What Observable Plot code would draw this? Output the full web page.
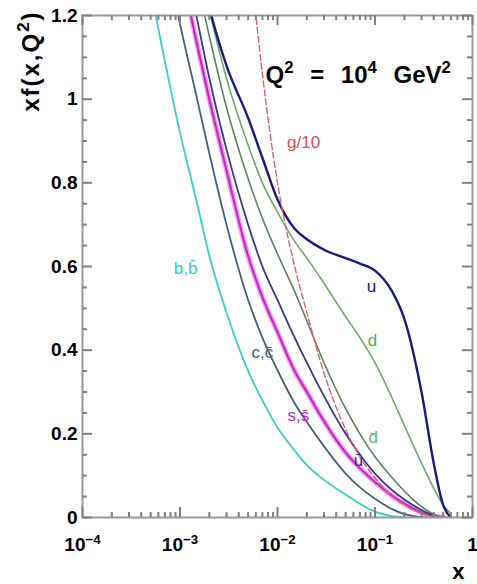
<!DOCTYPE html>
<html><head><meta charset="utf-8">
<script src="https://cdn.jsdelivr.net/npm/d3@7"></script>
<script src="https://cdn.jsdelivr.net/npm/@observablehq/plot@0.6"></script>
<style>body{margin:0;background:#fff}</style>
</head><body><div id="chart"></div>
<script>
// x grid shared by all curves
const xGrid  = [0.0005,0.0007,0.001,0.0015,0.002,0.003,0.005,0.007,0.01,0.015,0.02,0.03,0.05,0.07,0.1,0.15,0.2,0.3,0.4,0.5,0.6];
// xf(x,Q^2) values (null = not drawn)
const bVals    = [1.26,1.09,0.92,0.75,0.625,0.49,0.35,0.28,0.215,0.16,0.125,0.09,0.055,0.033,0.014,0.003,0,null,null,null,null];
const cVals    = [null,1.36,1.18,1.00,0.87,0.70,0.52,0.43,0.352,0.273,0.228,0.17,0.105,0.072,0.045,0.02,0.008,0.001,0,null,null];
const sVals    = [null,1.50,1.32,1.13,1.00,0.83,0.625,0.527,0.443,0.35,0.30,0.23,0.155,0.118,0.085,0.052,0.033,0.012,0.003,0,null];
const ubarVals = [null,null,1.38,1.19,1.05,0.88,0.70,0.60,0.52,0.43,0.37,0.29,0.20,0.15,0.105,0.065,0.043,0.018,0.005,0,null];
const dbarVals = [null,null,1.48,1.28,1.15,0.98,0.81,0.715,0.63,0.54,0.47,0.37,0.26,0.20,0.145,0.095,0.063,0.026,0.008,0.001,0];
const dVals    = [null,null,1.52,1.33,1.21,1.05,0.89,0.80,0.73,0.66,0.62,0.56,0.48,0.43,0.37,0.285,0.22,0.13,0.07,0.03,0.01];
const uVals    = [null,null,1.56,1.36,1.22,1.08,0.955,0.86,0.76,0.69,0.665,0.64,0.62,0.607,0.59,0.54,0.475,0.30,0.13,0.03,0];
const gVals    = [null,null,null,null,null,1.90,1.38,1.06,0.80,0.60,0.49,0.345,0.21,0.145,0.095,0.05,0.03,0.01,0.003,0,null];

// curve labels
const labelText = ["g/10","u","d","d\u0304","u\u0304","s,s\u0304","c,c\u0304","b,b\u0304"];
const labelX    = [0.0185,0.092,0.094,0.096,0.0678,0.0164,0.0070,0.00114];
const labelY    = [0.896,0.552,0.423,0.19,0.136,0.244,0.394,0.595];

const xMajor = [1e-4,1e-3,1e-2,1e-1,1];
const yMajor = [0,0.2,0.4,0.6,0.8,1.0,1.2];
const xTickText = ["10\u207B\u2074","10\u207B\u00B3","10\u207B\u00B2","10\u207B\u00B9","1"];
const yLabel = "xf(x,Q\u00B2)";
const xLabel = "x";
const annotation = "Q\u00B2 = 10\u2074 GeV\u00B2";

const W = 477, H = 584, mL = 82, mR = 5, mT = 15, mB = 67;
const innerW = W - mL - mR, innerH = H - mT - mB;

function rows(vals){ return xGrid.map((x,i)=>({x, y: vals[i]})).filter(d=>d.y!=null); }

const styles = [
  {vals:bVals,   stroke:"#3ccccc", w:1.8},
  {vals:cVals,   stroke:"#44607c", w:1.8},
  {vals:sVals,   stroke:"#ff90ff", w:5},
  {vals:sVals,   stroke:"#b030b0", w:2},
  {vals:ubarVals,stroke:"#3a3a80", w:1.8},
  {vals:dbarVals,stroke:"#5f8060", w:1.6},
  {vals:dVals,   stroke:"#6aaa66", w:1.6},
  {vals:uVals,   stroke:"#1a1a78", w:2.4},
];
const labelColors = ["#dd4a5a","#1a1a78","#55aa55","#66bb66","#2a2a90","#b030b0","#44607c","#33cccc"];

// tick marks drawn inside the frame, on all four sides
const xMinor = [];
for (let e=-4;e<0;e++) for (let m=2;m<=9;m++) xMinor.push(m*Math.pow(10,e));
const yMinor = d3.range(0,1.2001,0.05).map(v=>+v.toFixed(2)).filter(v=>!yMajor.some(t=>Math.abs(t-v)<1e-9));
const yPerPx = 1.2/innerH;
const xFacPerPx = Math.pow(10, 4/innerW);
const tickColor = "#808080";
const tw = 2;

const marks = [
  ...styles.map(s => Plot.line(rows(s.vals), {x:"x", y:"y", stroke:s.stroke, strokeWidth:s.w, curve:"monotone-x", clip:true})),
  Plot.line(rows(gVals), {x:"x", y:"y", stroke:"#e06070", strokeWidth:1.4, strokeDasharray:"6,3", curve:"monotone-x", clip:true}),
  Plot.frame({stroke:"#999", strokeWidth:2}),
  Plot.ruleX(xMajor, {y1:0, y2:10*yPerPx, stroke:tickColor, strokeWidth:tw}),
  Plot.ruleX(xMinor, {y1:0, y2:5*yPerPx, stroke:tickColor, strokeWidth:tw}),
  Plot.ruleX(xMajor, {y1:1.2 - 10*yPerPx, y2:1.2, stroke:tickColor, strokeWidth:tw}),
  Plot.ruleX(xMinor, {y1:1.2 - 5*yPerPx, y2:1.2, stroke:tickColor, strokeWidth:tw}),
  Plot.ruleY(yMajor, {x1:1e-4, x2:1e-4*Math.pow(xFacPerPx,10), stroke:tickColor, strokeWidth:tw}),
  Plot.ruleY(yMinor, {x1:1e-4, x2:1e-4*Math.pow(xFacPerPx,5), stroke:tickColor, strokeWidth:tw}),
  Plot.ruleY(yMajor, {x1:1/Math.pow(xFacPerPx,10), x2:1, stroke:tickColor, strokeWidth:tw}),
  Plot.ruleY(yMinor, {x1:1/Math.pow(xFacPerPx,5), x2:1, stroke:tickColor, strokeWidth:tw}),
  Plot.axisX({ticks:xMajor, tickSize:0, tickPadding:20, label:null, fontSize:19, fontWeight:"bold",
    tickFormat:(d)=>xTickText[xMajor.indexOf(d)]}),
  Plot.axisY({ticks:yMajor, tickSize:0, tickPadding:5, label:null, fontSize:19, fontWeight:"bold",
    tickFormat:(d)=>String(+d.toFixed(1))}),
  Plot.text(labelText, {x:(d,i)=>labelX[i], y:(d,i)=>labelY[i], text:d=>d, fill:(d,i)=>labelColors[i], fontSize:17}),
  Plot.text([annotation], {frameAnchor:"top-left", dx:183, dy:50, textAnchor:"start", fontSize:24, fontWeight:"bold", fill:"black"}),
  Plot.text([yLabel], {frameAnchor:"top-left", dx:-61, dy:-5, rotate:-90, textAnchor:"end", fontSize:24, fontWeight:"bold", fill:"black"}),
  Plot.text([xLabel], {frameAnchor:"bottom-right", dx:-8, dy:61, fontSize:22, fontWeight:"bold", fill:"black"}),
];

const chart = Plot.plot({
  width:W, height:H, marginLeft:mL, marginRight:mR, marginTop:mT, marginBottom:mB,
  style:{fontFamily:"'Liberation Sans', Arial, sans-serif", background:"white"},
  x:{type:"log", domain:[1e-4,1]},
  y:{domain:[0,1.2]},
  marks
});
document.getElementById("chart").appendChild(chart);

// turn unicode superscripts into raised tspans (text stays real text)
const supMap = {"\u207B":"\u2212","\u2070":"0","\u00B9":"1","\u00B2":"2","\u00B3":"3","\u2074":"4"};
d3.select(chart).selectAll("text").each(function(){
  const el = this;
  const s = el.textContent;
  if (![...s].some(ch => ch in supMap)) return;
  const fs = parseFloat(getComputedStyle(el).fontSize) || 16;
  const runs = [];
  for (const ch of s) {
    const sup = ch in supMap;
    const c = sup ? supMap[ch] : ch;
    if (runs.length && runs[runs.length-1].sup === sup) runs[runs.length-1].t += c;
    else runs.push({sup, t:c});
  }
  while (el.firstChild) el.removeChild(el.firstChild);
  let raised = false;
  const shift = 0.38*fs;
  for (const r of runs) {
    const ts = document.createElementNS("http://www.w3.org/2000/svg","tspan");
    ts.textContent = r.t;
    if (r.sup) { ts.setAttribute("font-size", (0.7*fs).toFixed(1)); ts.setAttribute("dy", (-shift).toFixed(1)); raised = true; }
    else if (raised) { ts.setAttribute("dy", shift.toFixed(1)); raised = false; }
    el.appendChild(ts);
  }
  if (s === annotation) el.setAttribute("word-spacing", "10");
  if (s === yLabel) el.setAttribute("letter-spacing", "2");
});
</script>
</body></html>
